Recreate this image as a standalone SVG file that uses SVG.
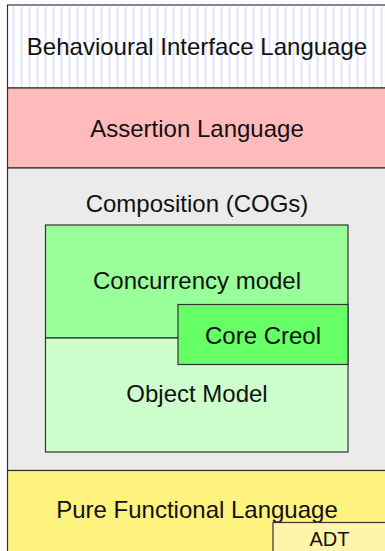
<svg xmlns="http://www.w3.org/2000/svg" width="385" height="551" viewBox="0 0 385 551">
<defs>
<pattern id="hatch" patternUnits="userSpaceOnUse" x="9.5" y="0" width="8" height="10">
<line x1="4" y1="0" x2="4" y2="10" stroke="#c8c8ff" stroke-width="1"/>
</pattern>
</defs>
<style>
.box{stroke:#333;stroke-width:1.2}
.t{font-family:"Liberation Sans",Arial,sans-serif;font-size:24px;fill:#111;text-anchor:middle}
.s{font-family:"Liberation Sans",Arial,sans-serif;font-size:20px;fill:#111;text-anchor:middle}
</style>
<rect x="0" y="0" width="385" height="551" fill="#ffffff"/>
<g id="behavioural">
<rect class="box" x="7.5" y="5" width="390" height="83" fill="#ffffff"/>
<rect x="8.2" y="5.6" width="380" height="81.8" fill="url(#hatch)"/>
<text class="t" x="197" y="55">Behavioural Interface Language</text>
</g>
<g id="assertion">
<rect class="box" x="7.5" y="88" width="390" height="80" fill="#ffbbbb"/>
<text class="t" x="197" y="137">Assertion Language</text>
</g>
<g id="composition">
<rect class="box" x="7.5" y="168" width="390" height="302.5" fill="#ebebeb"/>
<text class="t" x="197" y="212">Composition (COGs)</text>
</g>
<g id="concurrency">
<rect class="box" x="45.5" y="225" width="302.5" height="113" fill="#99ff99"/>
<text class="t" x="197" y="289">Concurrency model</text>
</g>
<g id="object">
<rect class="box" x="45.5" y="338" width="302.5" height="114" fill="#ccffcc"/>
<text class="t" x="197" y="402">Object Model</text>
</g>
<g id="corecreol">
<rect class="box" x="178" y="304.5" width="170" height="60" fill="#66ff66"/>
<text class="t" x="263" y="344">Core Creol</text>
</g>
<g id="functional">
<rect class="box" x="7.5" y="470.5" width="390" height="90" fill="#fff380"/>
<text class="t" x="197" y="518">Pure Functional Language</text>
</g>
<g id="adt">
<rect class="box" x="273" y="522.5" width="130" height="40" fill="#fff5aa"/>
<text class="s" x="329.5" y="545.5">ADT</text>
</g>
<g id="connectors"></g>
</svg>
